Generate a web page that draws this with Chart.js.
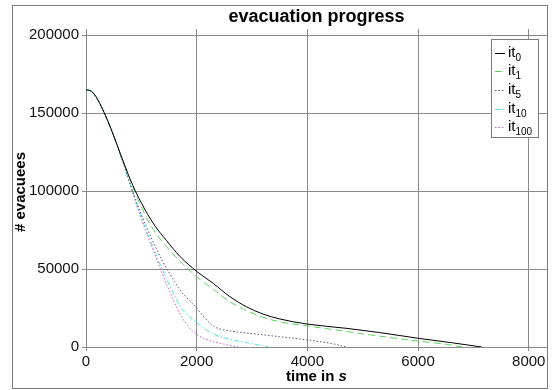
<!DOCTYPE html>
<html>
<head>
<meta charset="utf-8">
<script src="https://cdn.jsdelivr.net/npm/chart.js@4"></script>
<style>
  html, body { margin: 0; padding: 0; background: #fff; }
  #wrap { width: 555px; height: 390px; }
</style>
</head>
<body>
<div id="wrap"><canvas id="evacChart" width="555" height="390"></canvas></div>
<script>
const xTicks = [0, 2000, 4000, 6000, 8000];
const yTicks = [0, 50000, 100000, 150000, 200000];

const tIt0 = [0, 100, 200, 300, 400, 500, 600, 700, 800, 900, 1000, 1100, 1250, 1450, 1700, 2000, 2300, 2600, 2900, 3200, 3500, 4000, 4700, 5300, 6000, 6600, 7150];
const vIt0 = [165000, 164000, 159500, 152500, 144500, 135500, 126000, 116500, 107500, 99500, 92500, 86000, 77500, 68500, 58000, 48500, 40800, 32300, 25800, 21100, 18000, 14700, 12000, 9300, 5600, 2800, 0];

const tIt1 = [0, 100, 200, 300, 400, 500, 600, 700, 800, 900, 1000, 1100, 1250, 1450, 1700, 2000, 2300, 2600, 2900, 3200, 3500, 4000, 4700, 5300, 6000, 6500, 6800];
const vIt1 = [165000, 164000, 159500, 152500, 144500, 135500, 126000, 116500, 107000, 98000, 90000, 82500, 73500, 64500, 55000, 45100, 37000, 29000, 23300, 19000, 16200, 13500, 10000, 7000, 3800, 1800, 0];

const tIt5 = [0, 100, 200, 300, 400, 500, 600, 700, 800, 1000, 1200, 1400, 1600, 1700, 1850, 2000, 2150, 2300, 2400, 2600, 3000, 3500, 4000, 4500, 4700];
const vIt5 = [165000, 164000, 159500, 152500, 144500, 135500, 125500, 115500, 104500, 85000, 68500, 54000, 42000, 36500, 30500, 25000, 18500, 13500, 11800, 10300, 8600, 6600, 4500, 1800, 0];

const tIt10 = [0, 100, 200, 300, 400, 500, 600, 700, 800, 1000, 1200, 1400, 1600, 1700, 1850, 2000, 2150, 2300, 2600, 2900, 3300];
const vIt10 = [165000, 164000, 159500, 152500, 144500, 135500, 125500, 115000, 104000, 83000, 65000, 48000, 33000, 26000, 20000, 15500, 11500, 8300, 4900, 2800, 0];

const tIt100 = [0, 100, 200, 300, 400, 500, 600, 700, 800, 1000, 1200, 1400, 1600, 1700, 1850, 2000, 2150, 2300, 2500, 2750];
const vIt100 = [165000, 164000, 159500, 152500, 144500, 135500, 125500, 115000, 103500, 82000, 63500, 45000, 28500, 21000, 13000, 8000, 5200, 3400, 1800, 0];

const seriesSubs = ['0', '1', '5', '10', '100'];
const seriesColors = ['#000000', '#5fd35f', '#55558a', '#55dede', '#cc55cc'];
const seriesDash = [[], [7, 4], [1.5, 2], [5, 2, 1.5, 2], [1.5, 2]];

const toPts = (ts, vs) => ts.map((t, i) => ({ x: t, y: vs[i] }));
const allSeries = [toPts(tIt0, vIt0), toPts(tIt1, vIt1), toPts(tIt5, vIt5), toPts(tIt10, vIt10), toPts(tIt100, vIt100)];

const FONT = '"Liberation Sans", Arial, sans-serif';

// frame, titles and the legend with subscripts
const decor = {
  id: 'decor',
  afterDraw(chart) {
    const c = chart.ctx;
    const a = chart.chartArea;
    const cx = (a.left + a.right) / 2;
    c.save();
    c.strokeStyle = '#7a7a7a';
    c.lineWidth = 1;
    c.strokeRect(12.5, 5.5, 535, 383);

    c.fillStyle = '#000';
    c.textAlign = 'center';
    c.textBaseline = 'middle';
    c.font = 'bold 18px ' + FONT;
    c.fillText('evacuation progress', cx, 17);

    // x title, with an italic s
    c.font = 'bold 15px ' + FONT;
    const w1 = c.measureText('time in ').width;
    c.font = 'bold italic 15px ' + FONT;
    const w2 = c.measureText('s').width;
    const x0 = cx - (w1 + w2) / 2;
    c.textAlign = 'left';
    c.font = 'bold 15px ' + FONT;
    c.fillText('time in ', x0, 377);
    c.font = 'bold italic 15px ' + FONT;
    c.fillText('s', x0 + w1, 377);

    c.save();
    c.translate(21, (a.top + a.bottom) / 2 + 4);
    c.rotate(-Math.PI / 2);
    c.textAlign = 'center';
    c.font = 'bold 15px ' + FONT;
    c.fillText('# evacuees', 0, 0);
    c.restore();

    // legend
    const bx = 491.5, by = 39.5, bw = 47, bh = 98;
    c.fillStyle = '#fff';
    c.fillRect(bx, by, bw, bh);
    c.strokeStyle = '#7a7a7a';
    c.strokeRect(bx, by, bw, bh);
    const rows = [53, 71, 90, 109, 127];
    rows.forEach((y, i) => {
      c.strokeStyle = seriesColors[i];
      c.setLineDash(seriesDash[i]);
      c.lineWidth = 1;
      c.beginPath();
      c.moveTo(495, y + 0.5);
      c.lineTo(505, y + 0.5);
      c.stroke();
      c.setLineDash([]);
      c.fillStyle = '#000';
      c.textAlign = 'left';
      c.textBaseline = 'middle';
      c.font = '15px ' + FONT;
      c.fillText('it', 508, y);
      const iw = c.measureText('it').width;
      c.font = '10px ' + FONT;
      c.fillText(seriesSubs[i], 508 + iw, y + 5);
    });
    c.restore();
  }
};

const ctx = document.getElementById('evacChart').getContext('2d');

new Chart(ctx, {
  type: 'line',
  data: {
    datasets: allSeries.map((pts, i) => ({
      label: 'it' + seriesSubs[i],
      data: pts,
      borderColor: seriesColors[i],
      borderWidth: 1,
      borderDash: seriesDash[i],
      pointRadius: 0,
      fill: false,
      cubicInterpolationMode: 'monotone'
    }))
  },
  options: {
    responsive: false,
    animation: false,
    layout: { padding: { top: 29, right: 8, left: 0, bottom: 0 } },
    plugins: {
      legend: { display: false },
      title: { display: false },
      tooltip: { enabled: false }
    },
    scales: {
      x: {
        type: 'linear',
        min: 0,
        max: 8330,
        afterBuildTicks: s => { s.ticks = xTicks.map(v => ({ value: v })); },
        afterFit: s => { s.height = 43; },
        grid: { color: '#8a8a8a', tickLength: 4, drawTicks: true },
        border: { color: '#8a8a8a' },
        ticks: {
          color: '#111',
          font: { family: FONT, size: 15 },
          maxRotation: 0,
          padding: 2,
          callback: v => String(v)
        }
      },
      y: {
        min: 0,
        max: 204000,
        afterBuildTicks: s => { s.ticks = yTicks.map(v => ({ value: v })); },
        afterFit: s => { s.width = 86; },
        grid: { color: '#8a8a8a', tickLength: 4, drawTicks: true },
        border: { color: '#8a8a8a' },
        ticks: {
          color: '#111',
          font: { family: FONT, size: 15 },
          padding: 3,
          callback: v => String(v)
        }
      }
    }
  },
  plugins: [decor]
});
</script>
</body>
</html>
